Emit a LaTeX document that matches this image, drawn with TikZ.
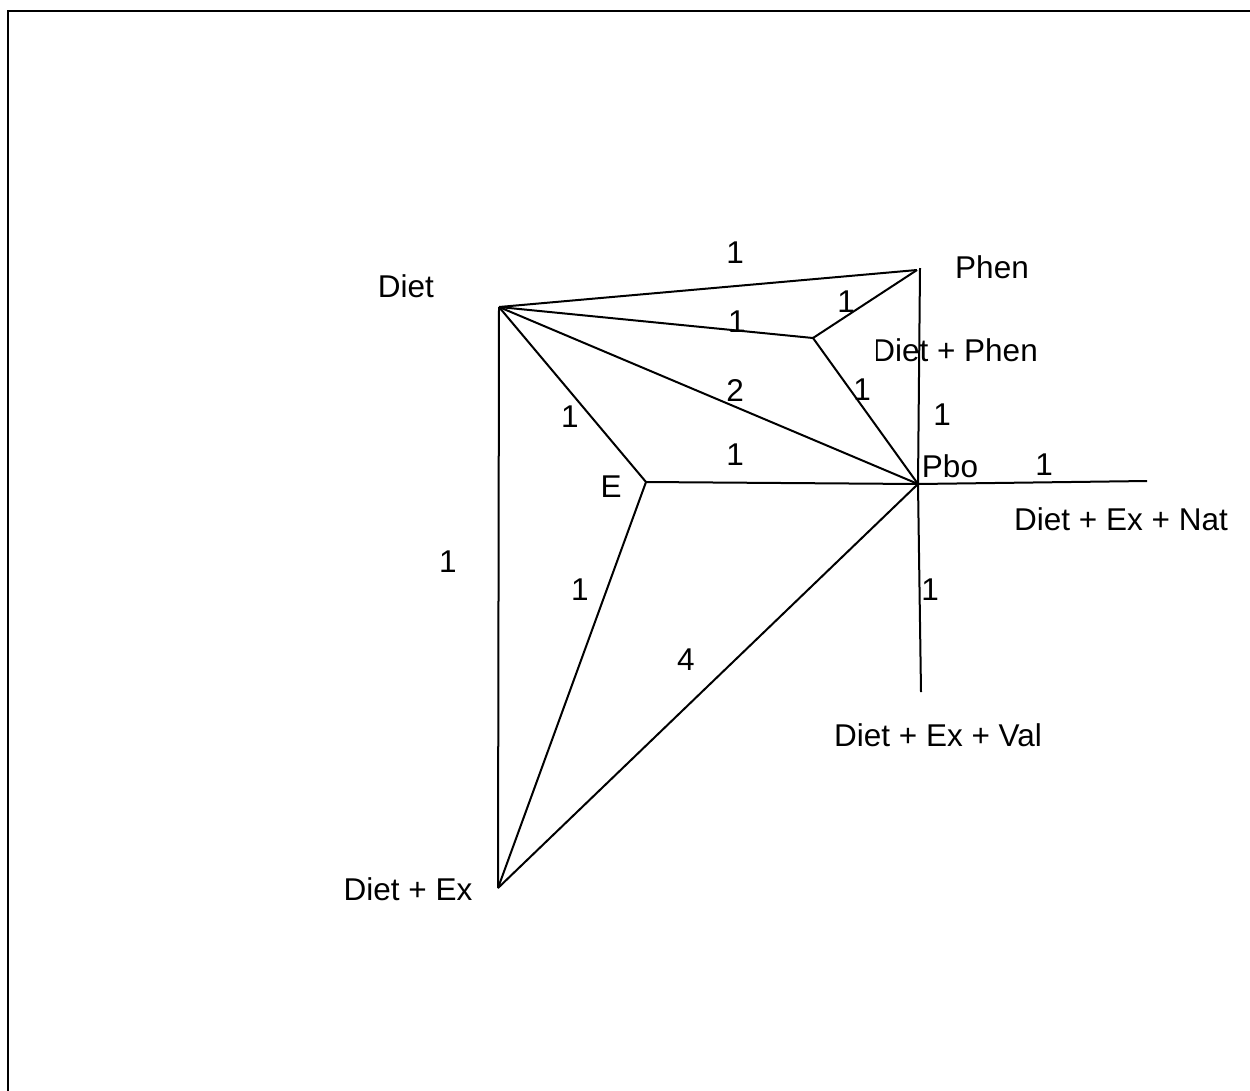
\documentclass[tikz,border=0pt]{standalone}
\usepackage{fontspec}
\setmainfont{Liberation Sans}
\begin{document}
\begin{tikzpicture}[x=1pt,y=-1pt,
  edge/.style={line width=2pt,line join=miter},
  lbl/.style={inner sep=0pt,font=\fontsize{31.5}{38}\selectfont},
  wt/.style={inner sep=0pt,font=\fontsize{31.5}{38}\selectfont}]
\useasboundingbox (0,0) rectangle (1250,1090);
% outer frame, running off the right and bottom edges
\draw[line width=2pt] (8,1100) -- (8,11) -- (1260,11);

% vertices
\coordinate (diet) at (499,307);
\coordinate (phen) at (917,270);
\coordinate (phentop) at (920,268);
\coordinate (dp) at (813,338);
\coordinate (pbo) at (918,484);
\coordinate (e) at (646,482);
\coordinate (dex) at (498,888);
\coordinate (nat) at (1147,481);
\coordinate (val) at (921,692);

% edges
\draw[edge] (diet) -- (phen);
\draw[edge] (diet) -- (dp);
\draw[edge] (dp) -- (phen);
\draw[edge] (diet) -- (pbo);
\draw[edge] (dp) -- (pbo);
\draw[edge] (phentop) -- (pbo);
\draw[edge] (diet) -- (e);
\draw[edge] (e) -- (pbo);
\draw[edge] (diet) -- (dex);
\draw[edge] (e) -- (dex);
\draw[edge] (dex) -- (pbo);
\draw[edge] (pbo) -- (nat);
\draw[edge] (pbo) -- (val);

% vertex names
\node[lbl] (tdiet) at (406,286) {Diet};
\node[lbl] (tphen) at (992,267) {Phen};
\begin{scope}
  \clip (876,330) rectangle (1060,372);
  \node[lbl,anchor=east] (tdp) at (1038,350) {Diet + Phen};
\end{scope}
\node[lbl] (tpbo) at (950,466) {Pbo};
\node[lbl] (te) at (611,487) {E};
\node[lbl] (tnat) at (1121,519) {Diet + Ex + Nat};
\node[lbl] (tval) at (938,735) {Diet + Ex + Val};
\node[lbl] (tdex) at (408,889) {Diet + Ex};

% edge weights
\node[wt] (w1) at (735,253) {1};
\node[wt] (w2) at (737,322) {1};
\node[wt] (w3) at (846,302) {1};
\node[wt] (w4) at (862,390) {1};
\node[wt] (w5) at (942,415) {1};
\node[wt] (w6) at (1044,465) {1};
\node[wt] (w7) at (735,390) {2};
\node[wt] (w8) at (570,417) {1};
\node[wt] (w9) at (735,455) {1};
\node[wt] (w10) at (448,562) {1};
\node[wt] (w11) at (580,590) {1};
\node[wt] (w12) at (686,660) {4};
\node[wt] (w13) at (930,590) {1};
\end{tikzpicture}
\end{document}
